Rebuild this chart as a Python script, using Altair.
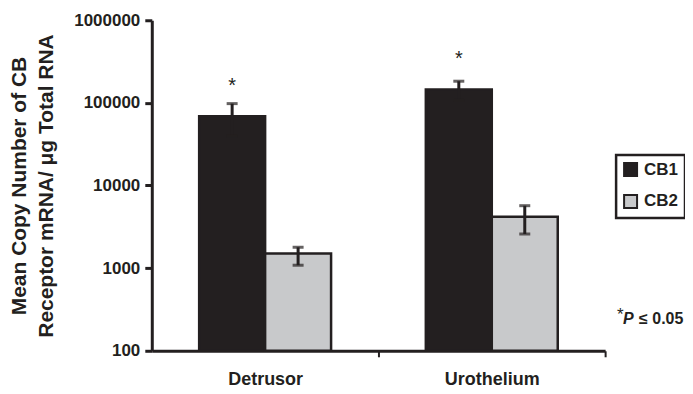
import altair as alt
import pandas as pd

categories = ["Detrusor", "Detrusor", "Urothelium", "Urothelium"]
receptors = ["CB1", "CB2", "CB1", "CB2"]
means = [69000, 1500, 145000, 4200]
err_high = [98000, 1790, 183000, 5700]
err_low = [40000, 1085, 107000, 2590]

star_categories = ["Detrusor", "Urothelium"]
star_receptors = ["CB1", "CB1"]
star_values = [180000, 378000]

y_ticks = [100, 1000, 10000, 100000, 1000000]
y_base = 100
group_order = ["Detrusor", "Urothelium"]
receptor_order = ["CB1", "CB2"]
bar_colors = ["#231f20", "#c8c9cb"]

df = pd.DataFrame({"category": categories, "receptor": receptors, "mean": means,
                   "hi": err_high, "lo": err_low})
stars = pd.DataFrame({"category": star_categories, "receptor": star_receptors, "v": star_values})
notes = pd.DataFrame({"k": [0]})

W, H = 454, 331
FONT = "Liberation Sans"
INK = "#231f20"
P_IN, P_OUT = 0.418, 0.209
step = W / (2 - P_IN + 2 * P_OUT)
tick_shift = step / 2  # from band centre to the boundary between groups

x_enc = alt.X("category:N", sort=group_order,
              scale=alt.Scale(paddingInner=P_IN, paddingOuter=P_OUT),
              axis=alt.Axis(title=None, labelAngle=0, ticks=True, tickOffset=tick_shift,
                            labelOffset=-tick_shift,
                            tickSize=6, tickWidth=2, tickColor=INK,
                            labelPadding=14,
                            labelFontSize=18, labelFontWeight="bold", labelFont=FONT,
                            labelColor=INK, domainColor=INK, domainWidth=3))
xo = alt.XOffset("receptor:N", sort=receptor_order)
y_scale = alt.Scale(type="log", domain=[100, 1000000], nice=False)

bars = alt.Chart(df).mark_bar(stroke=INK, strokeWidth=2.5).encode(
    x=x_enc, xOffset=xo,
    y=alt.Y("mean:Q", scale=y_scale,
            axis=alt.Axis(values=y_ticks, format="d", grid=False,
                          title=["Mean Copy Number of CB", "Receptor mRNA/ \u03bcg Total RNA"],
                          titleFontSize=21, titleFont=FONT, titleFontWeight="bold",
                          titleColor=INK, titlePadding=17, titleLineHeight=27,
                          labelFontSize=17, labelFontWeight="bold", labelFont=FONT,
                          labelColor=INK, labelPadding=5,
                          domainColor=INK, domainWidth=3, tickColor=INK,
                          tickWidth=3, tickSize=7)),
    y2=alt.datum(y_base),
    fill=alt.Fill("receptor:N", sort=receptor_order,
                  scale=alt.Scale(domain=receptor_order, range=bar_colors),
                  legend=alt.Legend(title=None, orient="none", legendX=465, legendY=135,
                                    symbolType="square", symbolSize=169,
                                    symbolStrokeColor=INK, symbolStrokeWidth=2,
                                    labelFontSize=17, labelFontWeight="bold",
                                    labelFont=FONT, labelColor=INK, labelOffset=5,
                                    rowPadding=11, padding=6,
                                    strokeColor=INK)),
)

err = alt.Chart(df).mark_rule(color=INK, strokeWidth=3).encode(
    x=alt.X("category:N", sort=group_order), xOffset=xo,
    y="hi:Q", y2="lo:Q")
cap_hi = alt.Chart(df).mark_tick(color=INK, thickness=3, size=11).encode(
    x=alt.X("category:N", sort=group_order), xOffset=xo, y="hi:Q")
cap_lo = alt.Chart(df).mark_tick(color=INK, thickness=3, size=11).encode(
    x=alt.X("category:N", sort=group_order), xOffset=xo, y="lo:Q")

star_text = alt.Chart(stars).mark_text(text="*", fontSize=20, font=FONT, color=INK,
                                       baseline="alphabetic", dy=10).encode(
    x=alt.X("category:N", sort=group_order), xOffset=alt.XOffset("receptor:N", sort=receptor_order),
    y="v:Q")

note_star = alt.Chart(notes).mark_text(text="*", fontSize=17, font=FONT, color=INK,
                                       align="left", baseline="alphabetic").encode(
    x=alt.value(466), y=alt.value(300))
note_p = alt.Chart(notes).mark_text(text="P", fontSize=16, font=FONT, color=INK,
                                    fontWeight="bold", fontStyle="italic",
                                    align="left", baseline="alphabetic").encode(
    x=alt.value(472), y=alt.value(304))
note_rest = alt.Chart(notes).mark_text(text="\u2264 0.05", fontSize=16, font=FONT, color=INK,
                                       fontWeight="bold", align="left",
                                       baseline="alphabetic").encode(
    x=alt.value(488), y=alt.value(304))

chart = alt.layer(bars, err, cap_hi, cap_lo, star_text,
                  note_star, note_p, note_rest).properties(
    width=W, height=H, autosize=alt.AutoSizeParams(type="none"),
    padding={"left": 144, "top": 12, "right": 80, "bottom": 42},
).configure_view(stroke=None).configure_legend(strokeWidth=2.5)

chart.save("out.html", embed_options={"renderer": "svg", "actions": False})
